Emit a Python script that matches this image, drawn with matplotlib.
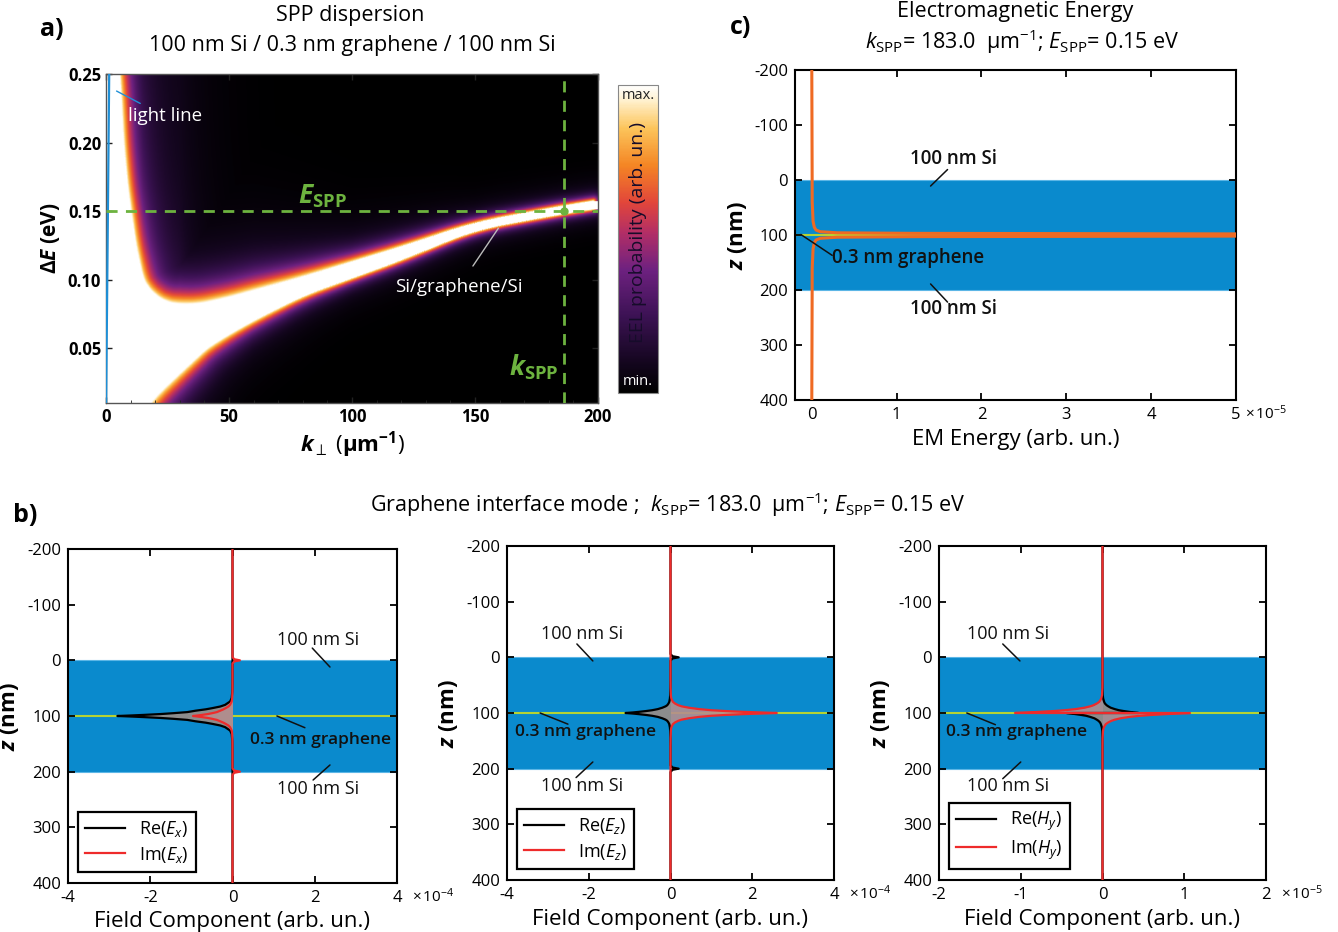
import numpy as np
import matplotlib
matplotlib.use('Agg')
import matplotlib.pyplot as plt
from matplotlib.colors import LinearSegmentedColormap

plt.rcParams['font.family'] = ['Open Sans', 'DejaVu Sans']
plt.rcParams['mathtext.fontset'] = 'custom'
plt.rcParams['mathtext.rm'] = 'Open Sans'
plt.rcParams['mathtext.it'] = 'Open Sans:italic'
plt.rcParams['mathtext.bf'] = 'Open Sans:bold'
plt.rcParams['mathtext.bfit'] = 'Open Sans:italic:bold'
plt.rcParams['axes.unicode_minus'] = False

# ---------------- panel a : dispersion (edges of the saturated region)
k_up = [5, 6, 7, 8.5, 10, 12, 15, 18, 22, 26, 30, 35, 40, 50, 60, 80, 100, 120, 150, 183, 200]
E_up = [0.26, 0.235, 0.20, 0.17, 0.15, 0.125, 0.10, 0.092, 0.086, 0.083, 0.082, 0.082,
        0.083, 0.087, 0.092, 0.102, 0.113, 0.124, 0.142, 0.153, 0.158]
k_lo = [15, 18, 22, 29, 35, 41, 50, 60, 80, 100, 120, 150, 183, 200]
E_lo = [0.0, 0.01, 0.018, 0.03, 0.04, 0.05, 0.06, 0.07, 0.088, 0.101, 0.114, 0.136, 0.147, 0.152]
# width of the glow around each edge (picture pixels)
glow_k = [0, 15, 30, 60, 100, 150, 200]
glow_up = [9, 11, 16, 14, 8, 4.5, 4]
glow_lo = [15, 15, 13, 8, 5, 4, 3.5]
k_light = [0.0, 1.3]
E_light = [0.0, 0.25]
k_spp_line = 186.0
E_spp = 0.15

# ---------------- panels b, c : field profiles around the graphene sheet (z = 100 nm)
z_graphene = 100.0
dz = [0, 1, 2, 3.5, 5, 7, 9.5, 12, 14, 17, 20, 26, 32, 45, 60]
re_ex = [-2.8, -2.45, -2.15, -1.75, -1.45, -1.1, -0.9, -0.65, -0.5, -0.3, -0.18, -0.06, -0.02, -0.004, 0]
im_ex = [-0.96, -0.84, -0.74, -0.6, -0.5, -0.38, -0.3, -0.22, -0.17, -0.1, -0.06, -0.02, -0.007, -0.001, 0]
re_ez = [-1.1, -0.92, -0.78, -0.6, -0.45, -0.31, -0.2, -0.12, -0.08, -0.05, -0.03, -0.015, -0.008, -0.002, 0]
im_ez = [2.6, 2.2, 1.8, 1.35, 1.0, 0.7, 0.45, 0.27, 0.19, 0.11, 0.06, 0.02, 0.008, 0.002, 0]
re_hy = [0.44, 0.38, 0.33, 0.26, 0.2, 0.15, 0.1, 0.07, 0.05, 0.03, 0.02, 0.008, 0.003, 0.001, 0]
im_hy = [-1.07, -0.9, -0.78, -0.6, -0.46, -0.33, -0.22, -0.15, -0.11, -0.07, -0.04, -0.015, -0.006, -0.001, 0]
# small kinks at the Si / vacuum interfaces (z = 0 and 200 nm)
dz_if = [-6, -2, 0, 2, 6]
im_ex_if = [0, 0.04, 0.18, 0.04, 0]
re_ez_if = [0, 0.05, 0.2, 0.05, 0]
zero_if = [0, 0, 0, 0, 0]
# electromagnetic energy
dz_em = [0, 1, 1.5, 2, 3, 4, 6, 9, 14, 25, 60]
em = [80, 30, 12, 5, 1.2, 0.3, 0.1, 0.05, 0.03, 0.015, 0.005]

blue = '#0a8acd'
green_line = '#b5d334'
spp_green = '#6db33f'
orange = '#ef6a23'
red = '#ee2b2b'


def profile(core, odd=False, kink=zero_if, d=dz, interfaces=True):
    d = np.asarray(d, float)
    v = np.asarray(core, float)
    if odd:
        dd = np.where(d == 0, 0.05, d)
        zc = np.concatenate([z_graphene - dd[::-1], z_graphene + dd])
        vc = np.concatenate([v[::-1], -v])
    else:
        zc = np.concatenate([z_graphene - d[::-1], z_graphene + d[1:]])
        vc = np.concatenate([v[::-1], v[1:]])
    if not interfaces:
        return np.concatenate([[0], vc, [0]]), np.concatenate([[-200], zc, [400]])
    zi = np.asarray(dz_if, float)
    ki = np.asarray(kink, float)
    z = np.concatenate([[-200], 0 + zi, zc, 200 + zi, [400]])
    val = np.concatenate([[0], ki, vc, ki, [0]])
    return val, z


fig = plt.figure(figsize=(13.38, 9.32), dpi=100)
W, H = 1338.0, 932.0


def box(l, t, r, b):
    return [l / W, 1 - b / H, (r - l) / W, (b - t) / H]


# ================= a) =================
ax_a = fig.add_axes(box(106, 74, 598, 403))
kk = np.linspace(0, 200, 560)
ee = np.linspace(0.01, 0.25, 440)
K, E = np.meshgrid(kk, ee)
sx, sy = 2.46, 1370.0  # pixels per unit in the picture


def dense(xs, ys, n=40, win=31):
    # resample the read edge densely, then round off the corners
    px, py = [], []
    for i in range(len(xs) - 1):
        px.append(np.linspace(xs[i], xs[i + 1], n, endpoint=False))
        py.append(np.linspace(ys[i], ys[i + 1], n, endpoint=False))
    px = np.append(np.concatenate(px), xs[-1])
    py = np.append(np.concatenate(py), ys[-1])
    ker = np.ones(win) / win
    pad = win // 2
    px = np.convolve(np.pad(px, pad, mode='edge'), ker, mode='valid')
    py = np.convolve(np.pad(py, pad, mode='edge'), ker, mode='valid')
    return px, py


uk, ue = dense(k_up, E_up)
lk, le = dense(k_lo, E_lo)
up_e = np.interp(K, uk, ue, left=1.0)
lo_e = np.interp(K, lk, le, left=-1.0)


def min_dist(mask, cx, cy):
    d = np.full(K.shape, np.inf)
    idx = np.flatnonzero(mask.ravel())
    X = K.ravel()[idx] * sx
    Y = E.ravel()[idx] * sy
    out = np.empty(len(idx))
    for s in range(0, len(idx), 3000):
        dxx = X[s:s + 3000, None] - cx[None, :]
        dyy = Y[s:s + 3000, None] - cy[None, :]
        out[s:s + 3000] = np.sqrt(dxx ** 2 + dyy ** 2).min(axis=1)
    d.ravel()[idx] = out
    return d


above = E > up_e
below = (E < lo_e) & ~above
I = np.ones(K.shape)
d_up = min_dist(above, uk * sx, ue * sy)
d_lo = min_dist(below, lk * sx, le * sy)
w_up = np.interp(K, glow_k, glow_up)
w_lo = np.interp(K, glow_k, glow_lo)


def glow(d, w):
    return 0.78 * np.exp(-d / w) + 0.22 * np.exp(-d / (3 * w))


I[above] = glow(d_up[above], w_up[above])
I[below] = glow(d_lo[below], w_lo[below])

eel_cmap = LinearSegmentedColormap.from_list('eel', [
    (0.0, '#000000'), (0.1, '#14061f'), (0.25, '#3c1254'), (0.4, '#6e2180'),
    (0.52, '#b22e66'), (0.62, '#e2463a'), (0.74, '#f48524'), (0.86, '#fcc45a'),
    (0.95, '#fff0cc'), (1.0, '#ffffff')])
im = ax_a.imshow(I, origin='lower', extent=[0, 200, 0.01, 0.25], aspect='auto',
                 cmap=eel_cmap, vmin=0, vmax=1, interpolation='bilinear')
ax_a.plot(k_light, E_light, color='#1f8fd6', lw=1.6, zorder=3)
ax_a.axhline(E_spp, color=spp_green, lw=2, ls=(0, (4, 3)), zorder=4)
ax_a.axvline(k_spp_line, color=spp_green, lw=2, ls=(0, (4, 3)), zorder=4)
ax_a.plot([k_spp_line], [E_spp], 'o', color=spp_green, ms=5, zorder=5)
ax_a.set_xlim(0, 200)
ax_a.set_ylim(0.01, 0.25)
ax_a.set_xticks([0, 50, 100, 150, 200])
ax_a.set_xticks(np.arange(0, 201, 10), minor=True)
ax_a.set_yticks([0.05, 0.10, 0.15, 0.20, 0.25])
ax_a.set_yticklabels(['0.05', '0.10', '0.15', '0.20', '0.25'])
ax_a.tick_params(direction='in', top=True, right=True, length=4, width=1,
                 color='#222222', labelsize=12)
ax_a.tick_params(which='minor', direction='in', length=2.5, color='#222222')
for lab in ax_a.get_xticklabels() + ax_a.get_yticklabels():
    lab.set_fontweight('bold')
for sp in ax_a.spines.values():
    sp.set_color('#555555')
    sp.set_linewidth(1)
ax_a.set_xlabel(r'$\mathbfit{k}_{\perp}$ ($\mathbf{\mu m^{-1}}$)', fontsize=16,
                labelpad=2)
ax_a.set_ylabel(r'$\mathbf{\Delta}\mathbfit{E}$ $\mathbf{(eV)}$', fontsize=15,
                labelpad=4)
ax_a.annotate('light line', xy=(3.3, 0.2385), xytext=(9, 0.219), color='white',
              fontsize=13.5, va='center', ha='left',
              arrowprops=dict(arrowstyle='-', color='#1f8fd6', lw=1))
ax_a.annotate('Si/graphene/Si', xy=(159.5, 0.1375), xytext=(143.4, 0.0946),
              color='white', fontsize=13.5, va='center', ha='center',
              arrowprops=dict(arrowstyle='-', color='#bbbbbb', lw=1,
                              shrinkA=8, shrinkB=0))
ax_a.text(88, 0.161, r'$\mathbfit{E}_{\mathbf{SPP}}$', color=spp_green, fontsize=19,
          ha='center', va='center')
ax_a.text(184, 0.036, r'$\mathbfit{k}_{\mathbf{SPP}}$', color=spp_green, fontsize=19,
          ha='right', va='center')

cax = fig.add_axes(box(618, 85, 658, 393))
cb = fig.colorbar(im, cax=cax, ticks=[])
cb.outline.set_edgecolor('#888888')
cax.text(0.5, 0.99, 'max.', color='#222222', ha='center', va='top', fontsize=10.5,
         transform=cax.transAxes)
cax.text(0.5, 0.012, 'min.', color='white', ha='center', va='bottom', fontsize=10.5,
         transform=cax.transAxes)
cax.text(0.5, 0.52, 'EEL probability (arb. un.)', color='#160c2a', ha='center',
         va='center', rotation=90, fontsize=14, transform=cax.transAxes)

fig.text(350 / W, 1 - 16 / H, 'SPP dispersion', ha='center', va='center', fontsize=15.5)
fig.text(352 / W, 1 - 46 / H, '100 nm Si / 0.3 nm graphene / 100 nm Si',
         ha='center', va='center', fontsize=15.5)
fig.text(52 / W, 1 - 30 / H, 'a)', ha='center', va='center', fontsize=18, fontweight='bold')

# ================= common helpers for b, c =================
title_math = (r'$\mathit{k}_{\mathrm{SPP}}$= 183.0  $\mathrm{\mu m^{-1}}$; '
              r'$\mathit{E}_{\mathrm{SPP}}$= 0.15 eV')


def layer_axes(ax, xlim, xticks):
    ax.axhspan(0, 200, color=blue, zorder=0, lw=0)
    ax.axhline(0, color='#5cb6e6', lw=0.8, zorder=0.5)
    ax.axhline(200, color='#5cb6e6', lw=0.8, zorder=0.5)
    ax.axhline(z_graphene, color=green_line, lw=1.5, zorder=1)
    ax.set_xlim(*xlim)
    ax.set_ylim(400, -200)
    ax.set_xticks(xticks)
    ax.set_xticklabels([str(t) for t in xticks])
    ax.set_yticks([-200, -100, 0, 100, 200, 300, 400])
    ax.tick_params(direction='in', top=True, right=True, length=5, width=1.3,
                   labelsize=12, pad=5)
    for sp in ax.spines.values():
        sp.set_linewidth(1.5)
    ax.set_ylabel(r'$\mathbfit{z}$ $\mathbf{(nm)}$', fontsize=16, labelpad=4)


def leader(ax, text, xy, xyt, fs=13, weight='semibold'):
    ax.annotate('', xy=xy[0], xytext=xy[1],
                arrowprops=dict(arrowstyle='-', color='#111111', lw=1.1,
                                shrinkA=0, shrinkB=0), zorder=6)
    ax.text(xyt[0], xyt[1], text, ha='center', va='center', fontsize=fs,
            fontweight=weight, color='#111111', zorder=6)


# ================= c) =================
ax_c = fig.add_axes(box(795, 70, 1236, 400))
layer_axes(ax_c, (-0.198, 5), [0, 1, 2, 3, 4, 5])
em_v, em_z = profile(em, d=dz_em, interfaces=False)
ax_c.plot(em_v, em_z, color=orange, lw=2.2, zorder=3)
ax_c.set_xlabel('EM Energy (arb. un.)', fontsize=16, labelpad=4)
ax_c.text(1.02, -0.042, r'$\times\,10^{-5}$', transform=ax_c.transAxes,
          fontsize=11, ha='left', va='center')
leader(ax_c, '100 nm Si', ((1.40, 11), (1.60, -19)), (1.67, -38), fs=13.5)
leader(ax_c, '0.3 nm graphene', ((-0.13, 99), (0.24, 137)), (1.14, 141), fs=13.5)
leader(ax_c, '100 nm Si', ((1.40, 189), (1.60, 222)), (1.67, 234), fs=13.5)
fig.text(1015 / W, 1 - 12 / H, 'Electromagnetic Energy', ha='center', va='center',
         fontsize=15.5)
fig.text(1022 / W, 1 - 42 / H, title_math, ha='center', va='center', fontsize=15.5)
fig.text(741 / W, 1 - 28 / H, 'c)', ha='center', va='center', fontsize=18,
         fontweight='bold')

# ================= b) =================
panels_b = [
    (box(68, 549, 397, 883), re_ex, im_ex, zero_if, im_ex_if, False, (-4, 4),
     [-4, -2, 0, 2, 4], r'$\times\,10^{-4}$', 'E_x',
     (((2.37, 12), (1.94, -22)), (2.09, -37)),
     (((1.08, 100), (1.76, 121)), (2.14, 143)),
     (((2.37, 188), (1.96, 215)), (2.09, 231))),
    (box(507, 546, 834, 880), re_ez, im_ez, re_ez_if, zero_if, False, (-4, 4),
     [-4, -2, 0, 2, 4], r'$\times\,10^{-4}$', 'E_z',
     (((-1.90, 6.5), (-2.29, -24)), (-2.17, -42)),
     (((-3.19, 100), (-2.51, 120)), (-2.09, 134)),
     (((-1.90, 188), (-2.31, 216)), (-2.17, 231))),
    (box(939, 546, 1266, 880), re_hy, im_hy, zero_if, zero_if, True, (-2, 2),
     [-2, -1, 0, 1, 2], r'$\times\,10^{-5}$', 'H_y',
     (((-1.01, 6.5), (-1.22, -24)), (-1.16, -42)),
     (((-1.66, 100), (-1.31, 121)), (-1.05, 134)),
     (((-1.00, 188), (-1.22, 218)), (-1.16, 231))),
]

for (rect, re_v, im_v, re_k, im_k, odd, xlim, xt, off, comp,
     a_top, a_gr, a_bot) in panels_b:
    ax = fig.add_axes(rect)
    layer_axes(ax, xlim, xt)
    rv, rz = profile(re_v, odd=odd, kink=re_k)
    iv, iz = profile(im_v, odd=odd, kink=im_k)
    ax.fill_betweenx(rz, rv, 0, color='#8c8c8c', lw=0, zorder=2)
    ax.fill_betweenx(iz, iv, 0, color='#b48e8e', lw=0, zorder=2.1, alpha=0.9)
    ax.plot(rv, rz, color='black', lw=1.6, zorder=3, label=r'Re($\mathit{%s}$)' % comp)
    ax.plot(iv, iz, color=red, lw=1.6, zorder=3.5, label=r'Im($\mathit{%s}$)' % comp)
    ax.set_xlabel('Field Component (arb. un.)', fontsize=16, labelpad=4)
    ax.text(1.045, -0.042, off, transform=ax.transAxes, fontsize=11,
            ha='left', va='center')
    leader(ax, '100 nm Si', a_top[0], a_top[1], weight='medium')
    leader(ax, '0.3 nm graphene', a_gr[0], a_gr[1], fs=12.5)
    leader(ax, '100 nm Si', a_bot[0], a_bot[1], weight='medium')
    lg = ax.legend(loc='lower left', bbox_to_anchor=(0.03, 0.033), borderaxespad=0,
                   fontsize=13, fancybox=False, framealpha=1, edgecolor='black',
                   handlelength=2.2, borderpad=0.4, labelspacing=0.3)
    lg.get_frame().set_linewidth(1.6)

fig.text(668 / W, 1 - 505 / H, 'Graphene interface mode ;  ' + title_math,
         ha='center', va='center', fontsize=15.5)
fig.text(25 / W, 1 - 515 / H, 'b)', ha='center', va='center', fontsize=18,
         fontweight='bold')

fig.savefig('out.png', dpi=100)
